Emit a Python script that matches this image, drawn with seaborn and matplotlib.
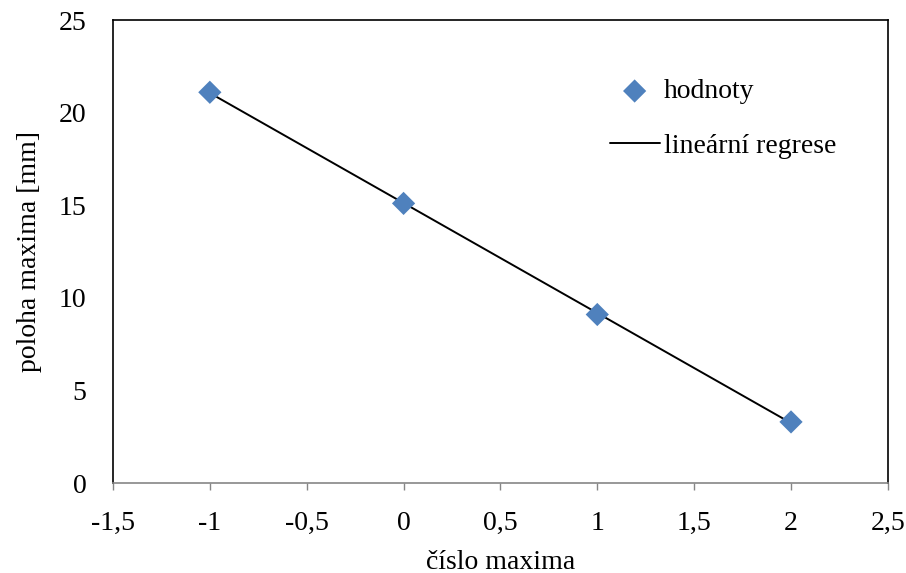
import numpy as np
import pandas as pd
import matplotlib
matplotlib.use("Agg")
import matplotlib.pyplot as plt
import seaborn as sns

# data
cislo = [-1, 0, 1, 2]
poloha = [21.1, 15.1, 9.1, 3.3]
x_ticks = [-1.5, -1, -0.5, 0, 0.5, 1, 1.5, 2, 2.5]
x_tick_labels = ["-1,5", "-1", "-0,5", "0", "0,5", "1", "1,5", "2", "2,5"]
y_ticks = [0, 5, 10, 15, 20, 25]

sns.set_theme(style="white", rc={"text.color": "black", "axes.labelcolor": "black",
                                 "xtick.color": "black", "ytick.color": "black"})
plt.rcParams["font.family"] = ["Liberation Serif", "DejaVu Serif"]

df = pd.DataFrame({"cislo": cislo, "poloha": poloha})

# linear fit
k, q = np.polyfit(df["cislo"], df["poloha"], 1)
df["fit"] = k * df["cislo"] + q

fig = plt.figure(figsize=(9.06, 5.73), dpi=100)
ax = fig.add_axes([0.1247, 0.157, 0.8553, 0.808])

sns.lineplot(data=df, x="cislo", y="fit", color="black", linewidth=1.4,
             ax=ax, label="lineární regrese", zorder=2)
sns.scatterplot(data=df, x="cislo", y="poloha", marker="D", s=140,
                color="#4F81BD", edgecolor="none", ax=ax, label="hodnoty", zorder=3)

ax.set_xlim(-1.5, 2.5)
ax.set_ylim(0, 25)
ax.set_xticks(x_ticks)
ax.set_xticklabels(x_tick_labels)
ax.set_yticks(y_ticks)
ax.set_yticklabels([str(v) for v in y_ticks])
ax.tick_params(axis="x", bottom=True, length=5, width=1, color="#868686",
               labelcolor="black", labelsize=20, pad=15)
ax.tick_params(axis="y", left=False, labelcolor="black", labelsize=20, pad=13)

for s in ["top", "left", "right"]:
    ax.spines[s].set_color("black")
    ax.spines[s].set_linewidth(1.2)
ax.spines["bottom"].set_color("#868686")
ax.spines["bottom"].set_linewidth(1.2)

ax.set_xlabel("číslo maxima", fontsize=20, labelpad=10)
ax.set_ylabel("poloha maxima [mm]", fontsize=20, labelpad=12)

handles, labels = ax.get_legend_handles_labels()
order = [labels.index("hodnoty"), labels.index("lineární regrese")]
ax.legend([handles[i] for i in order], [labels[i] for i in order],
          loc="upper left", bbox_to_anchor=(0.623, 0.903), frameon=False,
          borderpad=0, fontsize=20, handlelength=1.8, handletextpad=0.15,
          labelspacing=1.05)

fig.savefig("out.png", dpi=100)
